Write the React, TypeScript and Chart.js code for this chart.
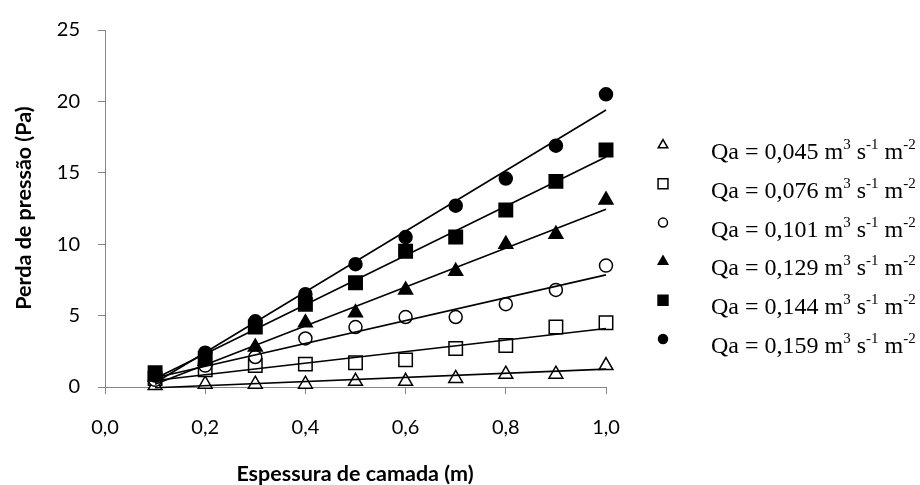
import React, { useEffect, useRef } from 'react';
import { Chart, registerables } from 'chart.js';
import { drawPoint } from 'chart.js/helpers';

Chart.register(...registerables);

// ---- data ----
const thickness = [0.1, 0.2, 0.3, 0.4, 0.5, 0.6, 0.7, 0.8, 0.9, 1.0];
const qaLabels = ['0,045', '0,076', '0,101', '0,129', '0,144', '0,159'];
const qa045 = [0.1, 0.2, 0.2, 0.2, 0.4, 0.4, 0.6, 0.9, 0.9, 1.5];
const qa076 = [0.6, 1.2, 1.5, 1.6, 1.7, 1.9, 2.7, 2.9, 4.2, 4.5];
const qa101 = [0.5, 1.5, 2.1, 3.4, 4.2, 4.9, 4.9, 5.8, 6.8, 8.5];
const qa129 = [0.7, 1.8, 2.8, 4.5, 5.2, 6.8, 8.1, 10.0, 10.7, 13.1];
const qa144 = [1.0, 2.0, 4.2, 5.8, 7.3, 9.5, 10.5, 12.4, 14.4, 16.6];
const qa159 = [0.8, 2.4, 4.6, 6.5, 8.6, 10.5, 12.7, 14.6, 16.9, 20.5];
const trendX = [0.1, 1.0];
const trendStart = [-0.05, 0.45, 0.65, 0.2, 0.6, 0.3];
const trendEnd = [1.25, 4.1, 7.85, 12.45, 16.1, 19.4];
const xTicks = [0, 0.2, 0.4, 0.6, 0.8, 1.0];
const yTicks = [0, 5, 10, 15, 20, 25];

const seriesValues = [qa045, qa076, qa101, qa129, qa144, qa159];

const markerStyles = [
  { style: 'triangle', fill: '#ffffff', r: 8, lr: 5.5 },
  { style: 'rect', fill: '#ffffff', r: 9.5, lr: 7 },
  { style: 'circle', fill: '#ffffff', r: 6.5, lr: 4.5 },
  { style: 'triangle', fill: '#000000', r: 8, lr: 5.5 },
  { style: 'rect', fill: '#000000', r: 9.5, lr: 7 },
  { style: 'circle', fill: '#000000', r: 6.5, lr: 4.5 },
];

const AXIS_GRAY = '#868686';
const TICK_FONT = { family: 'Lato', size: 20 };

const overlayPlugin = {
  id: 'overlay',
  afterDraw(chart: any) {
    const ctx = chart.ctx as CanvasRenderingContext2D;
    ctx.save();
    for (let i = 0; i < qaLabels.length; i++) {
      const y = 145 + i * 38.8;
      const st = markerStyles[i];
      ctx.fillStyle = st.fill;
      ctx.strokeStyle = '#000';
      ctx.lineWidth = 1.5;
      drawPoint(ctx, { pointStyle: st.style as any, rotation: 0, radius: st.lr, borderWidth: 1.5 } as any, 663, y);
      const segs = [
        { t: `Qa = ${qaLabels[i]} m`, sup: false },
        { t: '3', sup: true },
        { t: ' s', sup: false },
        { t: '-1', sup: true },
        { t: ' m', sup: false },
        { t: '-2', sup: true },
      ];
      let x = 711;
      const base = y + 14;
      ctx.fillStyle = '#000';
      ctx.textAlign = 'left';
      ctx.textBaseline = 'alphabetic';
      for (const s of segs) {
        ctx.font = s.sup ? '15px "Liberation Serif"' : '24px "Liberation Serif"';
        ctx.fillText(s.t, x, s.sup ? base - 10 : base);
        x += ctx.measureText(s.t).width;
      }
    }
    ctx.fillStyle = '#000';
    ctx.font = 'bold 21.5px Lato';
    ctx.textAlign = 'center';
    ctx.textBaseline = 'middle';
    ctx.fillText('Espessura de camada (m)', 355, 474);
    ctx.translate(24, 208);
    ctx.rotate(-Math.PI / 2);
    ctx.fillText('Perda de pressão (Pa)', 0, 0);
    ctx.restore();
  },
};

export default function App() {
  const ref = useRef<HTMLCanvasElement | null>(null);
  useEffect(() => {
    if (!ref.current) return;
    const scatterSets = seriesValues.map((vals, i) => ({
      type: 'scatter' as const,
      label: 'Qa = ' + qaLabels[i],
      data: thickness.map((x, j) => ({ x, y: vals[j] })),
      pointStyle: markerStyles[i].style,
      pointRadius: markerStyles[i].r,
      pointBackgroundColor: markerStyles[i].fill,
      pointBorderColor: '#000',
      pointBorderWidth: 1.5,
      showLine: false,
      clip: false,
      order: 6 - i,
    }));
    const trendSets = seriesValues.map((_, i) => ({
      type: 'line' as const,
      label: 'trend ' + qaLabels[i],
      data: [
        { x: trendX[0], y: trendStart[i] },
        { x: trendX[1], y: trendEnd[i] },
      ],
      borderColor: '#000',
      borderWidth: 1.6,
      pointRadius: 0,
      fill: false,
      clip: false,
      order: 0,
    }));
    const chart = new Chart(ref.current, {
      type: 'scatter',
      data: { datasets: [...scatterSets, ...trendSets] as any },
      plugins: [overlayPlugin as any],
      options: {
        animation: false,
        responsive: true,
        maintainAspectRatio: false,
        layout: { padding: { top: 25, right: 314, left: 0, bottom: 0 } },
        plugins: { legend: { display: false }, tooltip: { enabled: false }, title: { display: false } },
        scales: {
          x: {
            type: 'linear',
            min: 0,
            max: 1,
            afterFit: (s: any) => { s.height = 98; },
            afterBuildTicks: (s: any) => { s.ticks = xTicks.map((v) => ({ value: v })); },
            ticks: {
              font: TICK_FONT,
              color: '#000',
              padding: 22,
              maxRotation: 0,
              autoSkip: false,
              callback: (v: any) => Number(v).toFixed(1).replace('.', ','),
            },
            grid: { display: true, drawOnChartArea: false, drawTicks: true, tickLength: 7, color: AXIS_GRAY, lineWidth: 1 },
            border: { display: true, color: AXIS_GRAY, width: 1 },
          },
          y: {
            type: 'linear',
            min: 0,
            max: 25,
            afterFit: (s: any) => { s.width = 105; },
            afterBuildTicks: (s: any) => { s.ticks = yTicks.map((v) => ({ value: v })); },
            ticks: { font: TICK_FONT, color: '#000', padding: 18, callback: (v: any) => String(v) },
            grid: { display: true, drawOnChartArea: false, drawTicks: true, tickLength: 7, color: AXIS_GRAY, lineWidth: 1 },
            border: { display: true, color: AXIS_GRAY, width: 1 },
          },
        },
      },
    });
    return () => chart.destroy();
  }, []);
  return (
    <div style={{ position: 'fixed', left: 0, top: 0, width: 920, height: 485, background: '#fff' }}>
      <canvas ref={ref} style={{ display: 'block', width: 920, height: 485 }} />
    </div>
  );
}
